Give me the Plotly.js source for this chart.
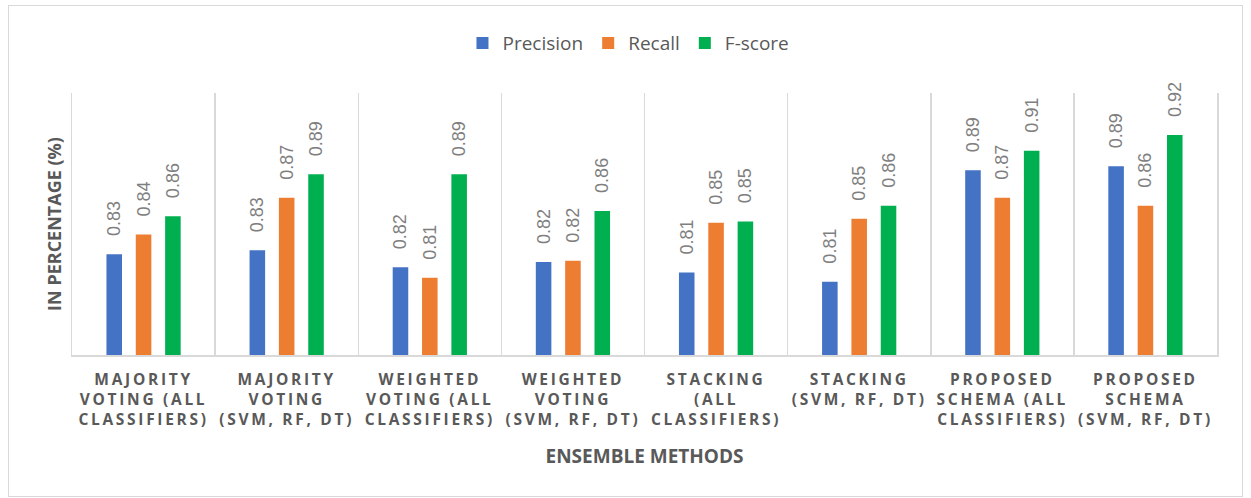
<!DOCTYPE html>
<html>
<head>
<meta charset="utf-8">
<script src="https://cdn.plot.ly/plotly-3.0.1.min.js"></script>
<style>
  html, body { margin: 0; padding: 0; background: #ffffff; }
  #wrap { position: relative; width: 1251px; height: 498px; }
  #chart { position: absolute; left: 0; top: 0; width: 1251px; height: 498px; }
  #frame {
    position: absolute; left: 8px; top: 5px; width: 1235px; height: 492px;
    border: 1px solid #d9d9d9; box-sizing: border-box; pointer-events: none;
  }
  #chart .xtick text { letter-spacing: 2.7px; }
</style>
</head>
<body>
<div id="wrap">
  <div id="chart"></div>
  <div id="frame"></div>
</div>
<script>
// Ensemble methods compared on three metrics
const methods = [
  "MAJORITY<br>VOTING (ALL<br>CLASSIFIERS)",
  "MAJORITY<br>VOTING<br>(SVM, RF, DT)",
  "WEIGHTED<br>VOTING (ALL<br>CLASSIFIERS)",
  "WEIGHTED<br>VOTING<br>(SVM, RF, DT)",
  "STACKING<br>(ALL<br>CLASSIFIERS)",
  "STACKING<br>(SVM, RF, DT)",
  "PROPOSED<br>SCHEMA (ALL<br>CLASSIFIERS)",
  "PROPOSED<br>SCHEMA<br>(SVM, RF, DT)"
];

const precision = [0.827, 0.830, 0.817, 0.821, 0.813, 0.806, 0.891, 0.894];
const recall    = [0.842, 0.870, 0.809, 0.822, 0.851, 0.854, 0.870, 0.864];
const fscore    = [0.856, 0.888, 0.888, 0.860, 0.852, 0.864, 0.906, 0.918];

const seriesNames  = ["Precision", "Recall", "F-score"];
const seriesValues = [precision, recall, fscore];
const seriesColors = ["#4472c4", "#ed7d31", "#00b050"];

const traces = seriesNames.map((name, i) => ({
  type: "bar",
  name: name,
  x: methods,
  y: seriesValues[i],
  marker: { color: seriesColors[i] },
  texttemplate: "\u00a0\u00a0\u00a0%{y:.2f}",
  textposition: "outside",
  textangle: -90,
  constraintext: "none",
  cliponaxis: false,
  textfont: { family: "Liberation Sans, Arial, sans-serif", size: 18, color: "#7f7f7f" },
  hoverinfo: "x+y+name"
}));

const layout = {
  width: 1251,
  height: 498,
  margin: { l: 72, r: 34, t: 93, b: 143 },
  paper_bgcolor: "#ffffff",
  plot_bgcolor: "#ffffff",
  barmode: "group",
  bargap: 0.385,
  bargroupgap: 0.47,
  showlegend: true,
  legend: {
    orientation: "h",
    x: 0.486, xanchor: "center",
    y: 1.19, yanchor: "middle",
    font: { family: "Open Sans, sans-serif", size: 19, color: "#595959" },
    itemwidth: 30,
    traceorder: "normal"
  },
  xaxis: {
    type: "category",
    tickson: "boundaries",
    showgrid: true,
    gridcolor: "#d9d9d9",
    gridwidth: 1.5,
    showline: true,
    linecolor: "#d9d9d9",
    linewidth: 1.5,
    ticks: "",
    ticklabelstandoff: 10,
    tickfont: { family: "Open Sans, sans-serif", size: 15.5, color: "#595959", weight: "bold" },
    title: {
      text: "<b>ENSEMBLE METHODS</b>",
      font: { family: "Open Sans, sans-serif", size: 19, color: "#595959" },
      standoff: 20
    }
  },
  yaxis: {
    range: [0.75, 0.95],
    showticklabels: false,
    showgrid: false,
    zeroline: false,
    showline: true,
    mirror: true,
    linecolor: "#d9d9d9",
    linewidth: 1.5,
    ticks: "",
    title: {
      text: "<b>IN PERCENTAGE (%)</b>",
      font: { family: "Open Sans, sans-serif", size: 18, color: "#595959" },
      standoff: 4
    }
  }
};

Plotly.newPlot("chart", traces, layout, { displayModeBar: false, staticPlot: true });
</script>
</body>
</html>
